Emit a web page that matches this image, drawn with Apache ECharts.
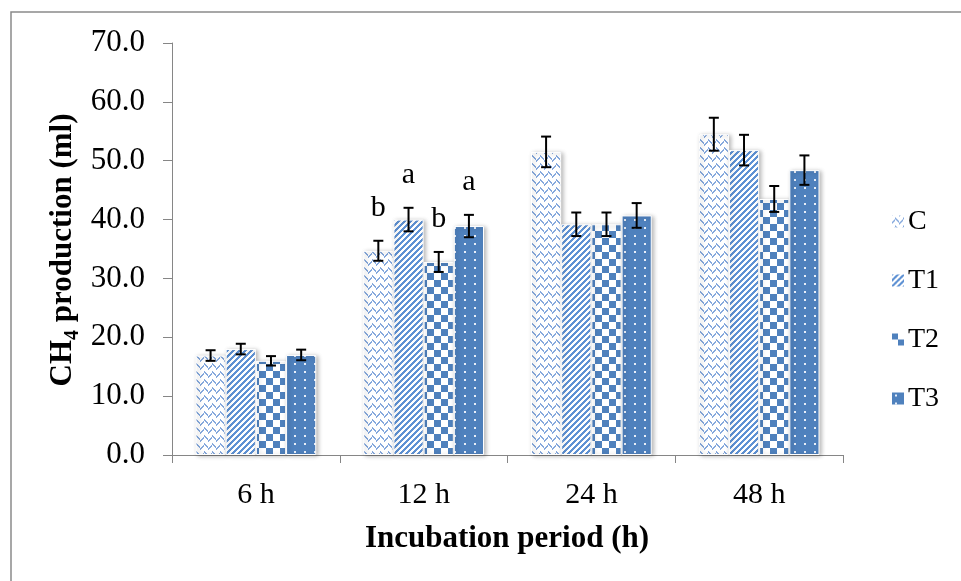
<!DOCTYPE html>
<html>
<head>
<meta charset="utf-8">
<script src="https://cdn.jsdelivr.net/npm/echarts@6/dist/echarts.min.js"></script>
<style>
html,body{margin:0;padding:0;background:#fff;}
#c{width:961px;height:581px;}
</style>
</head>
<body>
<div id="c"></div>
<script>
// ---- data ----
const categories = ['6 h', '12 h', '24 h', '48 h'];
const seriesNames = ['C', 'T1', 'T2', 'T3'];
const valuesC  = [16.9, 34.7, 51.5, 54.5];
const valuesT1 = [18.0, 40.0, 39.2, 51.8];
const valuesT2 = [16.0, 32.8, 39.2, 43.5];
const valuesT3 = [17.0, 38.9, 40.7, 48.4];
const errC  = [0.9, 1.7, 2.6, 2.8];
const errT1 = [0.9, 2.0, 2.0, 2.6];
const errT2 = [0.8, 1.7, 2.0, 2.2];
const errT3 = [0.9, 1.9, 2.1, 2.5];
const lettersC  = ['', 'b', '', ''];
const lettersT1 = ['', 'a', '', ''];
const lettersT2 = ['', 'b', '', ''];
const lettersT3 = ['', 'a', '', ''];
const yTicks = [0, 10, 20, 30, 40, 50, 60, 70];

const allValues = [valuesC, valuesT1, valuesT2, valuesT3];
const allErr = [errC, errT1, errT2, errT3];
const allLetters = [lettersC, lettersT1, lettersT2, lettersT3];

// ---- pattern tiles ----
function tile(w, h, fn) {
  const cv = document.createElement('canvas');
  cv.width = w; cv.height = h;
  const ctx = cv.getContext('2d');
  fn(ctx, w, h);
  return cv;
}
const patC = tile(8, 8, (ctx, w, h) => {
  ctx.fillStyle = '#ffffff'; ctx.fillRect(0, 0, w, h);
  ctx.fillStyle = '#86a9dd';
  for (let y = 0; y < h; y++) for (let x = 0; x < w; x++) {
    let on;
    if (x < 4) on = ((x + y) % 8) < 2; else on = ((x - y + 16) % 8) < 2;
    if (on) ctx.fillRect(x, y, 1, 1);
  }
});
const patT1 = tile(6, 6, (ctx, w, h) => {
  ctx.fillStyle = '#ffffff'; ctx.fillRect(0, 0, w, h);
  ctx.fillStyle = '#5f92d4';
  for (let y = 0; y < h; y++) for (let x = 0; x < w; x++) {
    if (((x + y) % 6) < 3) ctx.fillRect(x, y, 1, 1);
  }
});
const patT2 = tile(14, 14, (ctx, w, h) => {
  ctx.fillStyle = '#ffffff'; ctx.fillRect(0, 0, w, h);
  ctx.fillStyle = '#4f81bd';
  ctx.fillRect(0, 0, 7, 7); ctx.fillRect(7, 7, 7, 7);
});
const patT3 = tile(10, 8, (ctx, w, h) => {
  ctx.fillStyle = '#4f81bd'; ctx.fillRect(0, 0, w, h);
  ctx.fillStyle = '#e8eef8';
  ctx.fillRect(4, 3, 2, 2);
});
const patterns = [patC, patT1, patT2, patT3];

const GAP = 0.28;
const serif = '"Liberation Serif", "Times New Roman", serif';

const barSeries = seriesNames.map((n, i) => ({
  name: n,
  type: 'bar',
  data: allValues[i],
  barGap: '0%',
  barCategoryGap: (GAP * 100) + '%',
  itemStyle: {
    color: { image: patterns[i], repeat: 'repeat' },
    borderColor: '#ffffff',
    borderWidth: 1,
    shadowBlur: 4,
    shadowColor: 'rgba(0,0,0,0.28)',
    shadowOffsetX: 2,
    shadowOffsetY: 1
  },
  emphasis: { disabled: true },
  z: 2
}));

const errSeries = seriesNames.map((n, i) => ({
  type: 'custom',
  name: n + '_err',
  data: categories.map((c, k) => [k, allValues[i][k], allErr[i][k]]),
  z: 5,
  silent: true,
  renderItem: function (params, api) {
    const ci = api.value(0), v = api.value(1), e = api.value(2);
    const catW = api.size([1, 0])[0];
    const groupW = catW * (1 - GAP);
    const barW = groupW / 4;
    const cx = api.coord([ci, v])[0] - groupW / 2 + barW * (i + 0.5);
    const top = api.coord([ci, v + e])[1];
    const bot = api.coord([ci, v - e])[1];
    const st = { stroke: '#000', lineWidth: 2 };
    const children = [
      { type: 'line', shape: { x1: cx, y1: top, x2: cx, y2: bot }, style: st },
      { type: 'line', shape: { x1: cx - 5, y1: top, x2: cx + 5, y2: top }, style: st },
      { type: 'line', shape: { x1: cx - 5, y1: bot, x2: cx + 5, y2: bot }, style: st }
    ];
    const letter = allLetters[i][params.dataIndex];
    if (letter) {
      children.push({
        type: 'text',
        style: {
          text: letter, x: cx, y: top - 33,
          align: 'center', verticalAlign: 'middle',
          font: '30px ' + serif, fill: '#000'
        }
      });
    }
    return { type: 'group', children: children };
  }
}));

const chart = echarts.init(document.getElementById('c'), null, { renderer: 'canvas' });
chart.setOption({
  animation: false,
  backgroundColor: '#ffffff',
  grid: { left: 172, right: 118, top: 43, bottom: 126, containLabel: false },
  legend: {
    data: seriesNames,
    orient: 'vertical',
    left: 885,
    top: 201,
    itemWidth: 14,
    itemHeight: 14,
    itemGap: 28,
    icon: 'rect',
    selectedMode: false,
    textStyle: { fontFamily: serif, fontSize: 28, color: '#000', lineHeight: 31, padding: [0, 0, 0, -2] }
  },
  xAxis: {
    type: 'category',
    data: categories,
    axisLine: { lineStyle: { color: '#868686', width: 1 } },
    axisTick: { show: true, length: 8, lineStyle: { color: '#868686' }, alignWithLabel: false },
    axisLabel: { fontFamily: serif, fontSize: 30, color: '#000', margin: 25 },
    splitLine: { show: false }
  },
  yAxis: {
    type: 'value',
    min: yTicks[0],
    max: yTicks[yTicks.length - 1],
    interval: yTicks[1] - yTicks[0],
    axisLine: { show: true, lineStyle: { color: '#868686', width: 1 } },
    axisTick: { show: true, length: 9, lineStyle: { color: '#868686' } },
    axisLabel: { fontFamily: serif, fontSize: 31, color: '#000', margin: 27, formatter: v => v.toFixed(1) },
    splitLine: { show: false }
  },
  graphic: [
    { type: 'rect', shape: { x: 11, y: 12, width: 1200, height: 800 }, style: { fill: 'none', stroke: '#8a8a8a', lineWidth: 1.5 }, silent: true, z: 0 },
    {
      type: 'text', x: 63, y: 250, rotation: Math.PI / 2, silent: true,
      style: {
        text: '{b|CH}{s|4}{b| production (ml)}',
        align: 'center', verticalAlign: 'middle',
        rich: {
          b: { fontFamily: serif, fontWeight: 'bold', fontSize: 31, fill: '#000', lineHeight: 40, verticalAlign: 'middle' },
          s: { fontFamily: serif, fontWeight: 'bold', fontSize: 20, fill: '#000', lineHeight: 40, verticalAlign: 'bottom' }
        }
      }
    },
    {
      type: 'text', x: 507, y: 539, silent: true,
      style: {
        text: 'Incubation period (h)', align: 'center', verticalAlign: 'middle',
        font: 'bold 31px ' + serif, fill: '#000'
      }
    }
  ],
  series: barSeries.concat(errSeries)
});
</script>
</body>
</html>
